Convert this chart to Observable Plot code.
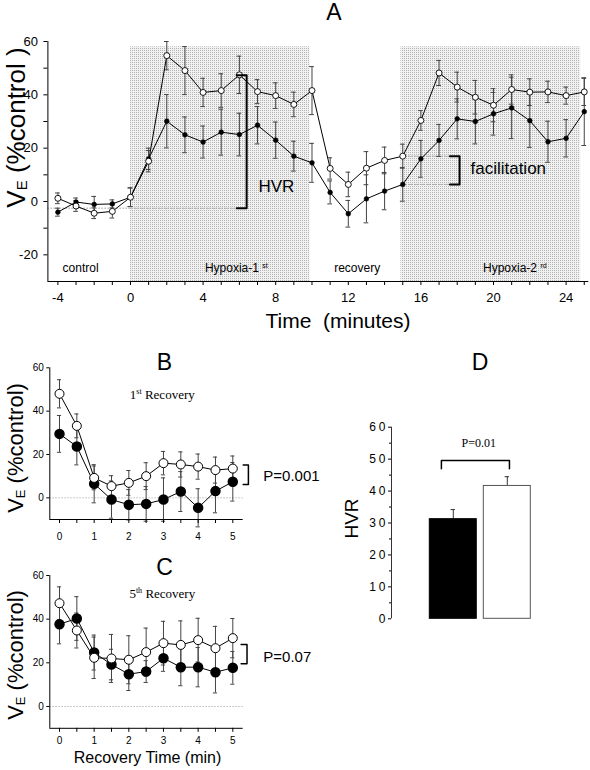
<!DOCTYPE html>
<html><head><meta charset="utf-8">
<script src="https://cdn.jsdelivr.net/npm/d3@7"></script>
<script src="https://cdn.jsdelivr.net/npm/@observablehq/plot@0.6"></script>
<style>
body{margin:0;background:#fff;}
#wrap{position:relative;width:590px;height:770px;overflow:hidden;background:#fff;}
</style></head><body><div id="wrap"></div>
<script>
const SANS = "'Liberation Sans', Arial, sans-serif";
const SERIF = "'Liberation Serif', 'Times New Roman', serif";

// ---------- Panel A data ----------
const timeA = [-4,-3,-2,-1,0,1,2,3,4,5,6,7,8,9,10,11,12,13,14,15,16,17,18,19,20,21,22,23,24,25];
const openA = [1.2,-1.7,-4.4,-3.7,1.6,15.1,54.7,49.1,40.9,41.6,47.5,41.2,39.7,36.4,41.6,12.4,6.4,12.5,15.4,17.0,30.4,48.2,42.9,39.1,36.1,42.0,41.0,41.1,39.7,41.1];
const openErrA = [2,2,2,2.5,3.5,4,5.3,9,5.3,6.3,7,4.5,4.8,4.6,9,4,4.6,6.2,5,4.5,3.7,4.7,5.6,6.3,6.2,5.5,5,4,3.2,5.1];
const filledA = [-4.0,-0.2,-1.1,-0.9,1.6,16.0,30.1,25.0,22.3,26.0,25.1,28.6,23.0,17.0,14.5,3.4,-4.6,1.0,3.9,6.4,16.0,22.9,31.0,30.0,32.9,35.1,30.3,22.4,23.7,33.7];
const filledErrA = [1.5,1.5,3,1.5,3.5,4,10,6.7,6,8.6,8,7,6.8,5.6,7.3,4.3,5,9,7,6.3,6.9,6,7.5,8.4,8,11.5,10,7.7,7,12.7];
const phaseStartA = [0, 14.9];
const phaseEndA = [9.9, 24.8];
const xTicksA = [-4,-3,-2,-1,0,1,2,3,4,5,6,7,8,9,10,11,12,13,14,15,16,17,18,19,20,21,22,23,24,25];
const yTicksA = [-20,-10,0,10,20,30,40,50,60];

// ---------- Panels B / C data ----------
const timeRec = [0,0.5,1,1.5,2,2.5,3,3.5,4,4.5,5];
const openB = [48,33.2,9.2,5.4,6.9,10,16,15.4,14.4,12.8,13.5];
const openErrB = [6.5,5.5,5.5,4.8,5.7,6.2,5.4,5.8,5.8,6,5.8];
const filledB = [29.5,23.7,6.5,-0.8,-3.2,-2.8,-0.8,2.9,-4.6,3.1,7.4];
const filledErrB = [8.5,8.5,8.8,8.6,7,8,10,9.2,8.8,10,8.9];
const openC = [47.3,34.8,22.3,22,21.4,24.9,29,28.2,30.4,26.7,31.3];
const openErrC = [7.5,8,9.5,11,11,11,10,11,10,10,9];
const filledC = [37.7,40.3,24.7,19.2,14.8,16,22.1,18,18,15.7,17.7];
const filledErrC = [9,10,8,7,7.5,5,6,8.5,9,9.5,7.5];
const xTicksRec = [0,0.5,1,1.5,2,2.5,3,3.5,4,4.5,5];
const yTicksRec = [0,20,40,60];

// ---------- Panel D data ----------
const groupsD = ["filled","open"];
const hvrD = [31.2, 41.6];
const hvrErrD = [3.0, 2.9];
const yTicksD = [0,10,20,30,40,50,60];
const yMinorD = [5,15,25,35,45,55];

const ns = "http://www.w3.org/2000/svg";
const wrap = document.getElementById("wrap");
function place(svg, left, top) {
  svg.style.position = "absolute";
  svg.style.left = left + "px";
  svg.style.top = top + "px";
  svg.style.maxWidth = "none";
  svg.style.overflow = "visible";
  svg.style.background = "transparent";
  wrap.appendChild(svg);
}
function addText(svg, x, y, parts, o = {}) {
  const t = document.createElementNS(ns, "text");
  t.setAttribute("x", x); t.setAttribute("y", y);
  t.setAttribute("font-family", o.family || SANS);
  t.setAttribute("font-size", o.size || 12);
  t.setAttribute("text-anchor", o.anchor || "start");
  t.setAttribute("fill", "black");
  t.setAttribute("style", "white-space:pre");
  if (o.rotate) t.setAttribute("transform", `rotate(${o.rotate} ${x} ${y})`);
  let prevShift = 0;
  for (const p of parts) {
    const s = document.createElementNS(ns, "tspan");
    const q = typeof p === "string" ? {text: p} : p;
    s.textContent = q.text;
    if (q.size) s.setAttribute("font-size", q.size);
    const shift = q.shift || 0;
    const dy = shift - prevShift;
    if (dy) s.setAttribute("dy", dy);
    prevShift = shift;
    t.appendChild(s);
  }
  svg.appendChild(t);
  return t;
}
function lin(plot, name) { const s = plot.scale(name); return d3.scaleLinear(s.domain, s.range); }
function errMarks(rows, key, errKey, cap, stroke) {
  return [
    Plot.ruleX(rows, {x: "t", y1: d => d[key] - d[errKey], y2: d => d[key] + d[errKey], stroke, strokeWidth: 1}),
    Plot.ruleY(rows, {y: d => d[key] + d[errKey], x1: d => d.t - cap, x2: d => d.t + cap, stroke, strokeWidth: 1}),
    Plot.ruleY(rows, {y: d => d[key] - d[errKey], x1: d => d.t - cap, x2: d => d.t + cap, stroke, strokeWidth: 1})
  ];
}

// ================= Panel A =================
const rowsA = timeA.map((t, i) => ({t, open: openA[i], openErr: openErrA[i], filled: filledA[i], filledErr: filledErrA[i]}));
const phasesA = phaseStartA.map((s, i) => ({start: s, end: phaseEndA[i]}));
const xDomainA = [-4.55, 25.25], yDomainA = [-30, 60], shadeTopA = 58;
const hvrBase = -2.5, hvrTop = 47.3, hvrX = 6.4, hvrTick = 5.85;
const facX = 18.13, facTick = 17.6, facTop = 17.0, facBot = 6.4, facFrom = 15;

const plotA = Plot.plot({
  width: 590, height: 340,
  marginLeft: 47.4, marginRight: 1.7, marginTop: 41, marginBottom: 59,
  style: {fontFamily: SANS, fontSize: "13px", color: "black", background: "transparent"},
  x: {domain: xDomainA}, y: {domain: yDomainA},
  marks: [
    Plot.rect(phasesA, {x1: "start", x2: "end", y1: () => yDomainA[0], y2: () => shadeTopA, fill: "url(#dotsA)"}),
    Plot.ruleY([hvrBase], {x1: () => xDomainA[0], x2: () => hvrTick, stroke: "#999", strokeDasharray: "1.5,1.5"}),
    Plot.ruleY([facTop, facBot], {x1: () => facFrom, x2: () => facTick, stroke: "#999", strokeDasharray: "1.5,1.5"}),
    ...errMarks(rowsA, "filled", "filledErr", 0.13, "#444"),
    ...errMarks(rowsA, "open", "openErr", 0.13, "#444"),
    Plot.line(rowsA, {x: "t", y: "filled", stroke: "black", strokeWidth: 1}),
    Plot.line(rowsA, {x: "t", y: "open", stroke: "black", strokeWidth: 1}),
    Plot.dot(rowsA, {x: "t", y: "filled", r: 2.4, fill: "black", stroke: "black", strokeWidth: 0.5}),
    Plot.dot(rowsA, {x: "t", y: "open", r: 3, fill: "white", stroke: "black", strokeWidth: 0.9}),
    Plot.line([[hvrTick, hvrTop], [hvrX, hvrTop], [hvrX, hvrBase], [hvrTick, hvrBase]], {stroke: "black", strokeWidth: 2}),
    Plot.line([[facTick, facTop], [facX, facTop], [facX, facBot], [facTick, facBot]], {stroke: "black", strokeWidth: 2}),
    Plot.text(["HVR"], {x: () => 7.05, y: () => 5.6, textAnchor: "start", fontSize: 17, fontFamily: SANS, fill: "black"}),
    Plot.text(["facilitation"], {x: () => 18.73, y: () => 12.3, textAnchor: "start", fontSize: 17, fontFamily: SANS, fill: "black"}),
    Plot.text(["control"], {x: () => -2.75, y: () => -25.1, fontSize: 12, fontFamily: SANS, fill: "black"}),
    Plot.text(["recovery"], {x: () => 12.49, y: () => -25.1, fontSize: 12, fontFamily: SANS, fill: "black"}),
    Plot.ruleX([xDomainA[0]], {y1: () => yDomainA[0], y2: () => yDomainA[1], stroke: "black"}),
    Plot.ruleY([yDomainA[0]], {x1: () => xDomainA[0], x2: () => xDomainA[1], stroke: "black"}),
    Plot.axisY(yTicksA, {tickSize: 4, tickPadding: 6, fontSize: 13, label: null, tickFormat: d => d % 20 === 0 ? String(d) : ""}),
    Plot.axisX(xTicksA, {tickSize: 4, tickPadding: 7, fontSize: 13, label: null, tickFormat: d => d % 4 === 0 ? String(d) : ""})
  ]
});
{
  const defs = document.createElementNS(ns, "defs");
  const pat = document.createElementNS(ns, "pattern");
  pat.setAttribute("id", "dotsA"); pat.setAttribute("width", 2); pat.setAttribute("height", 2);
  pat.setAttribute("patternUnits", "userSpaceOnUse");
  const bg = document.createElementNS(ns, "rect");
  bg.setAttribute("width", 2); bg.setAttribute("height", 2); bg.setAttribute("fill", "#f1f1f1");
  const dot = document.createElementNS(ns, "rect");
  dot.setAttribute("width", 1); dot.setAttribute("height", 1); dot.setAttribute("fill", "#b4b4b4");
  pat.appendChild(bg); pat.appendChild(dot); defs.appendChild(pat);
  plotA.insertBefore(defs, plotA.firstChild);
  const sx = lin(plotA, "x"), sy = lin(plotA, "y");
  addText(plotA, sx(4.13), sy(-26.5), ["Hypoxia-1 ", {text: "st", size: 7, shift: -4}], {size: 12});
  addText(plotA, sx(19.45), sy(-26.5), ["Hypoxia-2 ", {text: "rd", size: 7, shift: -4}], {size: 12});
  addText(plotA, 334, 20, ["A"], {size: 23, anchor: "middle"});
  addText(plotA, 338, 328, ["Time  (minutes)"], {size: 21, anchor: "middle"});
  addText(plotA, 25, 127.5, ["V", {text: "E", size: 15, shift: 2}, " (%control )"], {size: 26, anchor: "middle", rotate: -90});
}
place(plotA, 0, 0);

// ================= Panels B & C =================
function recPanel(openV, openE, filledV, filledE, cfg) {
  const rows = timeRec.map((t, i) => ({t, open: openV[i], openErr: openE[i], filled: filledV[i], filledErr: filledE[i]}));
  const xDom = [-0.28, 5.3], yDom = [-10, 60];
  const b = cfg.bracket;
  const p = Plot.plot({
    width: 320, height: cfg.height,
    marginLeft: 49.3, marginRight: 77.3, marginTop: cfg.mt, marginBottom: cfg.mb,
    style: {fontFamily: SANS, fontSize: "10px", color: "black", background: "transparent"},
    x: {domain: xDom}, y: {domain: yDom},
    marks: [
      Plot.ruleY([0], {x1: () => xDom[0], x2: () => xDom[1], stroke: "#bbb", strokeDasharray: "1.5,1.5"}),
      ...errMarks(rows, "filled", "filledErr", 0.06, "#444"),
      ...errMarks(rows, "open", "openErr", 0.06, "#444"),
      Plot.line(rows, {x: "t", y: "filled", stroke: "black", strokeWidth: 1}),
      Plot.line(rows, {x: "t", y: "open", stroke: "black", strokeWidth: 1}),
      Plot.dot(rows, {x: "t", y: "filled", r: 4.5, fill: "black", stroke: "black"}),
      Plot.dot(rows, {x: "t", y: "open", r: 4.5, fill: "white", stroke: "black", strokeWidth: 1}),
      Plot.line([[b.tick, b.top], [b.x, b.top], [b.x, b.bot], [b.tick, b.bot]], {stroke: "black", strokeWidth: 1.5}),
      Plot.text([cfg.pText], {x: () => 5.88, y: () => cfg.pY, textAnchor: "start", fontSize: 15, fontFamily: SANS, fill: "black"}),
      Plot.ruleX([xDom[0]], {y1: () => yDom[0], y2: () => yDom[1], stroke: "black"}),
      Plot.ruleY([yDom[0]], {x1: () => xDom[0], x2: () => xDom[1], stroke: "black"}),
      Plot.axisY(yTicksRec, {tickSize: 3, tickPadding: 3, fontSize: 10, label: null, tickFormat: d => String(d)}),
      Plot.axisX(xTicksRec, {tickSize: 4, tickPadding: cfg.xpad, fontSize: 10, label: null, tickFormat: d => Number.isInteger(d) ? String(d) : ""})
    ]
  });
  const sx = lin(p, "x"), sy = lin(p, "y");
  addText(p, sx(2.98), sy(cfg.subY), [cfg.ord, {text: cfg.sup, size: 8, shift: -5}, " Recovery"], {size: 13, family: SERIF, anchor: "middle"});
  addText(p, 164.5, cfg.letterY, [cfg.letter], {size: 23, anchor: "middle"});
  addText(p, 23, cfg.ylabY, ["V", {text: "E", size: 13, shift: 2}, " (%control)"], {size: 22, anchor: "middle", rotate: -90});
  if (cfg.xlabel) addText(p, 147.5, cfg.xlabelY, [cfg.xlabel], {size: 16, anchor: "middle"});
  return p;
}
const plotB = recPanel(openB, openErrB, filledB, filledErrB, {
  height: 200, mt: 27.3, mb: 21, xpad: 9,
  bracket: {x: 5.45, tick: 5.3, top: 15.2, bot: 6.1}, pText: "P=0.001", pY: 9.8,
  ord: "1", sup: "st", subY: 45.2, letter: "B", letterY: 30, ylabY: 108
});
place(plotB, 0, 340);
const plotC = recPanel(openC, openErrC, filledC, filledErrC, {
  height: 240, mt: 45, mb: 42.2, xpad: 5,
  bracket: {x: 5.41, tick: 5.24, top: 28.4, bot: 19.6}, pText: "P=0.07", pY: 22.6,
  ord: "5", sup: "th", subY: 49.3, letter: "C", letterY: 45, ylabY: 125,
  xlabel: "Recovery Time (min)", xlabelY: 233
});
place(plotC, 0, 530);

// ================= Panel D =================
const rowsD = groupsD.map((g, i) => ({i, g, hvr: hvrD[i], err: hvrErrD[i]}));
const xDomD = [-1.144, 1.5], yDomD = [0, 60];
const plotD = Plot.plot({
  width: 270, height: 300,
  marginLeft: 71, marginRight: 56.2, marginTop: 86.7, marginBottom: 21.7,
  style: {fontFamily: SANS, fontSize: "12px", color: "black", background: "transparent"},
  x: {domain: xDomD, axis: null}, y: {domain: yDomD},
  marks: [
    Plot.ruleX(rowsD, {x: "i", y1: "hvr", y2: d => d.hvr + d.err, stroke: "#333"}),
    Plot.ruleY(rowsD, {y: d => d.hvr + d.err, x1: d => d.i - 0.04, x2: d => d.i + 0.04, stroke: "#333"}),
    Plot.rect(rowsD, {x1: d => d.i - 0.435, x2: d => d.i + 0.435, y1: () => 0, y2: "hvr",
      fill: d => d.g === "filled" ? "black" : "white", stroke: d => d.g === "filled" ? "black" : "#555", strokeWidth: 1}),
    Plot.line([[-0.22, 47], [-0.22, 49.6], [1.04, 49.6], [1.04, 47]], {stroke: "black", strokeWidth: 1.5}),
    Plot.text(["P=0.01"], {x: () => 0.47, y: () => 55, fontSize: 12, fontFamily: SERIF, fill: "black"}),
    Plot.ruleX([xDomD[0]], {y1: () => yDomD[0], y2: () => yDomD[1], stroke: "#333"}),
    Plot.axisY(yTicksD, {tickSize: 3, tickPadding: 0, fontSize: 12, label: null, tickFormat: d => String(d)}),
    Plot.axisY(yMinorD, {tickSize: 2, fontSize: 12, label: null, tickFormat: () => ""})
  ]
});
plotD.querySelectorAll('g[aria-label="y-axis tick label"] text').forEach(t => t.style.letterSpacing = "3px");
addText(plotD, 160, 30, ["D"], {size: 23, anchor: "middle"});
addText(plotD, 38, 178.5, ["HVR"], {size: 19, anchor: "middle", rotate: -90});
place(plotD, 320, 340);
</script></body></html>
